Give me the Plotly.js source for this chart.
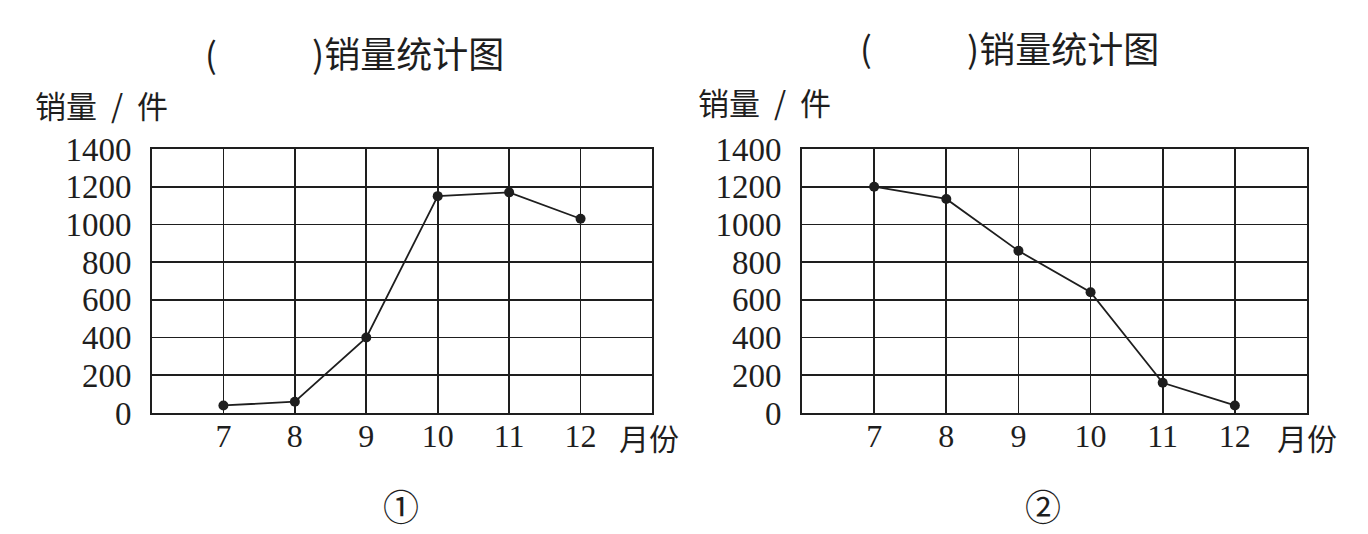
<!DOCTYPE html>
<html>
<head>
<meta charset="utf-8">
<script src="https://cdn.plot.ly/plotly-3.0.1.min.js"></script>
<style>html,body{margin:0;padding:0;background:#fff;}#chart{width:1368px;height:534px;}</style>
</head>
<body>
<div id="chart"></div>
<script>
// Data
const months = [7, 8, 9, 10, 11, 12];
const monthLabels = ["7", "8", "9", "10", "11", "12"];
const sales1 = [40, 60, 400, 1150, 1170, 1030];
const sales2 = [1200, 1135, 860, 640, 160, 40];
const yTicks = [0, 200, 400, 600, 800, 1000, 1200, 1400];
const titleText = ")销量统计图";
const yLabelText = "销量&nbsp; /&nbsp; 件";
const xLabelText = "月份";
const panelLabels = ["①", "②"];

const W = 1368, H = 534;
const px = x => x / W;
const py = y => 1 - y / H;
const ink = "#1e1e1e";
const serif = "Liberation Serif, Times New Roman, serif";
const cjk = "Noto Sans CJK SC, sans-serif";

function trace(y, xa, ya) {
  return {
    x: months, y: y, xaxis: xa, yaxis: ya, type: "scatter", mode: "lines+markers",
    line: {color: ink, width: 1.8}, marker: {color: ink, size: 10},
    hoverinfo: "skip", showlegend: false, cliponaxis: false
  };
}

function xax(domain, anchor) {
  return {
    domain: domain, anchor: anchor, range: [6, 13], tickvals: months, ticktext: monthLabels,
    showgrid: true, gridcolor: ink, gridwidth: 1.6, zeroline: false,
    showline: true, mirror: true, linecolor: ink, linewidth: 2,
    ticks: "", ticklabelstandoff: -6,
    tickfont: {family: serif, size: 32, color: ink}, fixedrange: true
  };
}
function yax(domain, anchor) {
  return {
    domain: domain, anchor: anchor, range: [0, 1400], tickvals: yTicks,
    showgrid: true, gridcolor: ink, gridwidth: 1.6, zeroline: false,
    showline: true, mirror: true, linecolor: ink, linewidth: 2,
    ticks: "", ticklabelstandoff: 12,
    tickfont: {family: serif, size: 33, color: ink}, fixedrange: true
  };
}

const yDom = [py(413), py(149)];

function ann(text, x, y, size, font, xanchor) {
  return {text: text, x: px(x), y: py(y), xref: "paper", yref: "paper",
    showarrow: false, xanchor: xanchor || "center", yanchor: "middle",
    font: {family: font, size: size, color: ink}};
}

const annotations = [
  ann("(", 211, 52, 35, cjk),
  ann(titleText, 310, 52, 36, cjk, "left"),
  ann("(", 866, 47, 35, cjk),
  ann(titleText, 965, 47, 36, cjk, "left"),
  ann(yLabelText, 33, 104, 31, cjk, "left"),
  ann(yLabelText, 696, 101, 31, cjk, "left"),
  ann(xLabelText, 617, 437, 30, cjk, "left"),
  ann(xLabelText, 1275, 437, 30, cjk, "left"),
  ann(panelLabels[0], 401, 505, 36, cjk),
  ann(panelLabels[1], 1043, 505, 36, cjk)
];

const layout = {
  width: W, height: H,
  margin: {l: 0, r: 0, t: 0, b: 0},
  paper_bgcolor: "#fff", plot_bgcolor: "#fff",
  xaxis: xax([px(152), px(652)], "y"),
  yaxis: yax(yDom, "x"),
  xaxis2: xax([px(802), px(1307)], "y2"),
  yaxis2: yax(yDom, "x2"),
  annotations: annotations,
  showlegend: false
};

Plotly.newPlot("chart", [trace(sales1, "x", "y"), trace(sales2, "x2", "y2")], layout, {displayModeBar: false, staticPlot: true});
</script>
</body>
</html>
